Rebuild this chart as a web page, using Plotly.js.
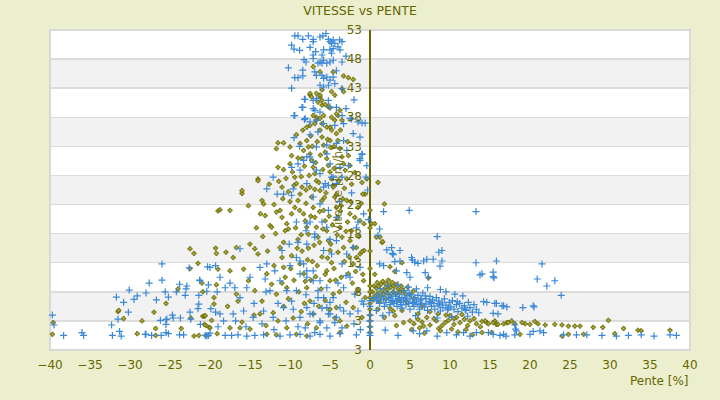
<!DOCTYPE html>
<html><head><meta charset="utf-8">
<script src="https://cdn.plot.ly/plotly-3.0.1.min.js"></script>
<style>html,body{margin:0;padding:0;background:#ebefcd;}#chart{width:720px;height:400px;}</style>
</head><body><div id="chart"></div>
<script>
// [pente %, vitesse km/h] pairs
const bluePoints = [
[-39.7,4.0],[-39.5,2.3],[-38.3,0.5],[-36,1.0],[-35.8,0.5],[-32.3,2.3],[-32.2,0.5],[-31.7,7.1],[-31.5,3.3],[-31.3,1.2],[-31.1,0.4],[-30.8,6.2],[-30.2,4.5],[-30.1,8.3],[-29.5,6.7],[-29.1,7.3],[-28.0,7.8],[-27.6,9.5],[-28.0,0.7],[-27.3,0.5],[-26.7,6.6],[-26.2,3.1],[-26.0,10.0],[-26.0,12.8],[-26.1,0.5],[-25.6,8.0],[-25.5,3.2],[-25.4,3.3],[-25.5,2.4],[-25.2,7.1],[-25.5,1.0],[-25.2,0.8],[-24.7,4.0],[-24.6,3.5],[-24.2,8.0],[-23.8,9.3],[-23.7,3.5],[-23.8,0.6],[-23.3,0.6],[-23.1,7.4],[-23.0,8.5],[-22.9,9.0],[-22.6,12.1],[-22.5,4.5],[-22.4,3.3],[-21.5,5.1],[-21.4,5.9],[-21.3,10.0],[-21.4,7.4],[-21.2,2.4],[-20.3,12.3],[-20.2,9.2],[-20.4,8.1],[-19.9,5.1],[-20.0,0.9],[-20.6,0.5],[-20.2,0.5],[-19.3,12.5],[-19.1,8.0],[-19.3,4.5],
[-45.5,0.5],[-45,2.4],[-44.1,1.7],[-44,0.7],[-41.5,0.5],[-28.1,0.7],
[-9.4,52.0],[-9.0,52.0],[-8.4,51.4],[-7.7,52.0],[-7.1,51.4],[-7.1,51.0],[-9.8,50.4],[-9.5,49.7],[-6.25,51.8],[-5.9,52.0],[-5.5,52.4],[-6.1,53.1],[-5.2,51.4],[-5.0,51.0],[-4.8,50.7],[-4.6,51.3],[-4.4,50.7],[-3.8,51.3],[-3.5,51.0],[-4.0,50.1],[-3.75,49.6],[-5.0,49.6],[-4.8,49.0],[-4.6,49.8],[-5.8,49.6],[-6.0,48.7],[-7.1,48.7],[-7.1,48.1],[-6.25,47.5],[-6.0,47.3],[-5.8,47.8],[-6.5,47.3],[-5.4,47.3],[-5.0,47.5],[-4.6,47.8],[-3.5,47.5],[-8.25,47.9],[-8.0,47.5],[-8.4,46.1],[-9.4,44.8],[-9.0,44.8],[-8.4,45.1],[-6.9,45.8],[-6.7,45.2],[-6.0,45.2],[-5.8,44.7],[-5.4,44.9],[-5.0,44.4],[-4.6,44.9],[-6.25,43.5],[-5.8,43.2],[-5.2,43.5],[-4.4,43.8],[-3.5,42.9],[-8.1,41.1],[-7.1,40.9],[-6.7,41.2],[-8.4,39.7],[-7.1,39.5],[-5.2,40.9],[-5.0,39.8],[-4.2,39.7],[-3.5,38.3],[-9.4,38.3],[-8.1,37.8],[-6.7,37.5],[-2.5,37.8],[-2.3,37.7],[-1.5,37.2],[-1.0,37.0],[-0.6,37.0],[-5.8,36.9],[-4.4,36.6],[-3.3,36.9],
[-9.5,38.3],[-8.2,41.1],[-8.5,39.7],[-8.2,37.6],[-7.5,37.2],[-6.9,39.2],[-6.25,38.9],[-9.8,29.4],[-12.1,27.7],[-12.9,25.7],[-9,30.0],[-8.75,28.9],[-7.9,31.2],[-7.1,30.3],[-6.7,28.9],[-5.4,31.7],[-5,30.0],[-4.6,27.7],[-4.2,26.6],[-3.3,34.0],[-2.9,32.3],[-2.1,35.2],[-1.25,34.6],[-1.0,31.7],[-0.4,29.7],[-1.25,30.9],[-0.5,27.7],[-3.75,29.4],[-3.5,27.7],
[-11.6,24.8],[-10.8,24.8],[-9.8,24.6],[-9.6,25.7],[-9.2,20.0],[-7.9,19.7],[-7.5,20.0],[-5.8,26.0],[-5.2,26.3],[-6.9,17.9],[-5.4,19.1],[-9.2,13.9],[-8.75,13.3],[-8.3,12.8],[-11,15.1],[-10.1,16.2],[-12.9,12.8],[-16.25,15.4],[-20,12.2],[-21.25,9.9],[-18.75,10.5],[-18.1,8.7],[-16.9,8.7],[-16.25,7.0],[-15.4,8.7],[-15,10.5],[-13.75,12.2],[-13.1,10.2],[-12.5,8.2],[-11.9,11.6],[-11.25,9.9],[-10.4,8.2],[-9.8,6.4],[-9.2,8.2],[-8.75,11.1],[-7.9,11.6],[-7.1,9.9],[-6.5,8.2],[-5.8,7.0],[-5.4,5.3],[-18.75,4.2],[-18.3,3.0],[-17.1,4.2],[-15.8,4.7],[-14.6,3.6],[-13.3,4.7],[-12.1,3.6],[-10.8,5.3],[-9.6,5.0],[-8.75,3.6],[-7.5,4.2],[-6.25,3.0],[-5.2,4.2],[-4.2,3.6],[-3.3,4.7],[-20.4,0.4],[-18.1,0.5],[-17.3,0.5],[-16.5,0.6],[-15.4,0.4],[-14.4,0.5],[-13.3,0.6],[-11.25,0.4],[-10,0.6],[-8.75,0.7],[-7.5,0.4],[-6.25,0.7],[-5,0.4],[-3.75,0.8],[-1.7,0.6],
[-1.0,31.6],[-1.25,30.6],[-2.7,29.7],[-0.3,25.5],[-0.8,21.4],[-1.5,20.0],[-1.7,19.0],[-2.1,15.6],[-2.9,14.5],[-3.5,12.8],[-1.25,12.2],[-2.5,10.5],[-3.3,8.7],[-1.9,7.6],[-1,6.4],[-4.6,7.0],[-3.75,5.3],[-5,4.2],[-6.25,2.7],[-7.1,4.2],[-7.9,5.3],[-8.1,1.8],[-6.9,1.0],[-5.4,1.8],[-4.4,2.7],[-2.5,4.2],[-1.5,4.7],[-0.8,5.9],[-7.9,10.5],[-7.1,11.6],[-6.25,9.9],[-5.4,8.7],[-6.5,7.0],[-5.8,15.1],[-4.8,14.5],[-4.2,16.8],[-6.9,17.4],[-7.9,16.2],[-6.25,28.3],[-5.6,26.6],[-4.8,27.7],[-7.9,26.6],[-7.1,24.3],[-6.25,23.1],[-5.2,22.0],[-4.2,20.8],[-8.3,30.6],[-7.5,31.2],[-6.7,32.9],[-5.4,33.2],[-4.2,33.5],
[-11.5,6.0],[-10.5,3.0],[-9.0,2.0],[-8.0,7.5],[-7.0,6.0],[-6.0,5.2],[-5.0,6.2],[-4.0,9.5],[-3.0,10.8],[-2.0,2.5],[-1.2,1.5],[-3.5,1.8],[-12.0,1.5],[-13.5,2.5],[-14.5,6.0],[-15.5,2.0],[-16.8,3.0],[-17.5,9.5],[-19.0,2.0],[-13.0,8.0],[-10.0,12.5],[-9.0,16.5],[-8.0,18.5],[-6.0,20.0],[-5.0,17.0],[-3.8,23.5],[-2.3,25.0],[-7.5,35.0],[-6.5,35.5],[-8.8,33.0],[-9.5,34.5],[-3.0,39.5],[-2.0,41.0],[-9.8,43.0],[-10.2,46.5],[-8.8,49.5],[-7.5,50.0],[-6.8,49.3],[-4.2,46.0],[-3.0,48.5],
[1.7,21.8],[4.9,22.0],[-0.2,20.4],[1.2,18.8],[1.0,17.7],[8.4,17.5],[2.1,15.2],[2.7,15.6],[2.8,14.6],[2.9,14.4],[3.75,15.1],[5.2,13.9],[5.3,13.5],[5.6,13.1],[6.0,12.9],[6.7,13.3],[7.1,13.6],[7.9,13.6],[9.0,13.3],[8.6,14.8],[9.0,15.1],[8.75,12.4],[13.25,13.0],[15.8,13.3],[21.5,12.8],[1.2,12.8],[1.7,12.5],[3.1,13.2],[3.3,11.6],[3.75,13.3],[4.6,11.3],[5,10.5],[6.9,11.3],[7.3,10.5],[13.75,10.9],[15.4,11.4],[15.5,10.4],[20.9,10.2],[13.25,21.8],[14,11.1],[15.4,10.6],[22.1,9.0],[19.1,5.3],[20.4,5.6],[15.8,6.0],[16.7,5.6],[23.1,9.9],[23.9,7.4],[14.2,6.3],[14.6,6.2],[15.6,6.0],[16.5,5.6],[17.1,5.4],[15.4,4.3],[16.0,4.2],[20.5,5.4],[18.1,2.3],[18.2,1.6],[21.25,1.3],
[1.9,1.4],[5.4,1.3],[7.1,1.3],[9.6,1.0],[11.7,1.0],[13.3,1.0],[14.8,1.0],[16.7,0.7],[18.3,1.3],[20.4,1.2],[21.7,1.0],[15.4,0.7],[16.25,0.5],[17,0.4],[18.1,0.6],[20,0.7],[24.2,0.6],[25.8,0.6],[27.1,0.6],[29,0.5],[30.8,0.4],[32.3,0.5],[33.9,0.6],[35.5,0.4],[37.5,0.6],[38.3,0.5],[40.4,0.6],[41.6,0.7],[43.2,0.7],[3.5,0.5],[6.2,0.8],[8.4,0.4],[10.8,0.6],[12.5,0.4],
[0.5,7.0],[0.8,6.5],[1.0,7.5],[1.2,6.0],[1.5,7.2],[1.7,6.6],[2.0,7.8],[2.0,6.2],[2.3,7.0],[2.5,5.8],[2.6,7.5],[2.8,6.5],[3.0,8.0],[3.0,6.0],[3.2,7.2],[3.4,5.5],[3.5,6.8],[3.7,7.6],[3.8,6.2],[4.0,5.2],[4.0,7.0],[4.2,6.5],[4.3,8.2],[4.5,5.8],[4.6,7.3],[4.8,6.0],[5.0,6.8],[5.0,5.0],[5.2,7.5],[5.3,6.2],[5.5,5.5],[5.6,7.0],[5.8,6.4],[6.0,5.8],[6.0,7.4],[6.2,5.0],[6.3,6.6],[6.5,6.0],[6.6,7.8],[6.8,5.4],[7.0,6.8],[7.0,5.9],[7.2,4.8],[7.4,6.3],[7.5,7.2],[7.7,5.5],[7.8,6.6],[8.0,6.0],[8.1,5.0],[8.3,7.0],[8.5,5.6],[8.6,6.4],[8.8,4.7],[9.0,6.1],[9.1,5.3],[9.3,6.8],[9.5,5.7],[9.7,4.9],[9.9,6.2],[10.1,5.4],[10.3,6.5],[10.5,5.0],[10.8,5.8],[11.0,4.6],[11.2,6.0],[11.5,5.2],[11.8,5.6],[12.0,4.8],[12.3,6.2],[12.5,5.3],[12.8,4.5],[13.0,5.8],[13.3,5.0],[13.6,4.4],[1.3,8.5],[2.2,9.0],[3.5,9.2],[4.8,8.8],[5.8,8.5],[7.2,8.7],[8.8,8.4],[9.5,8.0],[10.6,7.6],[11.6,7.3],[0.8,4.8],[1.6,3.9],[2.4,4.4],[5.7,3.9],[8.4,3.5],[10.2,3.7],[12.2,3.8],
[1.0,6.8],[1.8,5.5],[2.6,6.8],[3.3,6.4],[4.4,6.9],[5.4,6.0],[6.4,6.8],[7.6,6.1],[8.7,5.9],[9.8,5.2],[10.9,6.3],[11.9,5.0],[6.9,7.3],[4.9,7.8],[3.9,5.8],
[0,0.5],[0,1.0],[0,2.0],[0,3.0],[0,4.0],[0,5.5],[0,6.5]
];
const olivePoints = [
[-39.7,0.7],[-39.6,2.7],[-31.5,4.6],[-31.4,4.8],[-30.8,3.4],[-29.1,0.8],[-26.8,1.7],[-26.8,0.5],[-23.6,1.7],[-22.4,3.5],[-22.0,14.6],[-21.5,12.9],[-22,0.4],[-21.4,0.5],[-20.9,3.8],[-20.7,3.8],[-20.7,2.4],[-20.5,2.2],[-20.1,1.9],[-20.9,8.0],[-19.5,5.9],[-19.8,3.1],[-19.3,15.5],[-19.2,14.6],[-19.0,21.9],[-19.2,9.2],[-19.1,0.8],[-20.5,0.5],
[-7.1,46.7],[-3.3,45.1],[-2.7,44.8],[-2.1,44.5],[-6.25,45.8],[-4.6,45.8],[-3.5,42.9],[-3.3,42.4],[-7.5,41.8],[-7.3,41.5],[-6.25,41.5],[-6.0,40.9],[-5.2,39.8],[-5,39.6],[-7.1,38.3],[-6.7,38.0],[-6.25,37.8],[-5.8,38.3],[-4.8,38.0],[-4.4,37.5],[-4,38.3],[-7.9,36.3],[-7.5,36.6],[-6.9,36.9],[-5,36.3],
[-11.5,33.6],[-10.8,33.6],[-11.7,32.6],[-14.0,27.4],[-11.5,29.4],[-10.8,29.0],[-10,32.9],[-9.8,31.4],[-10,30.0],[-9.4,27.7],[-9.2,26.6],[-8.75,33.5],[-8.3,32.3],[-8.5,30.9],[-7.9,34.0],[-7.7,32.9],[-7.5,31.7],[-7.3,30.6],[-7.1,29.4],[-6.9,28.3],[-6.7,27.1],[-6.25,35.8],[-6.0,34.6],[-5.8,33.2],[-5.6,32.0],[-5.4,30.9],[-5.2,29.7],[-5,28.6],[-4.8,27.4],[-4.6,26.3],[-4.2,35.2],[-4.0,34.0],[-3.75,32.6],[-3.5,31.2],[-3.3,30.0],[-3.1,28.9],[-2.9,27.4],[-2.7,31.4],[-2.5,29.7],[-7.5,42.1],[-6.7,42.1],[-6.25,41.8],[-6.0,42.7],[-6.5,40.6],[-6,40.1],[-5.6,40.2],[-6.7,37.5],[-6.0,36.9],[-5.4,36.3],[-4.8,35.8],[-4.2,38.6],[-3.75,39.2],[-3.5,37.5],[-4.8,42.4],[-4.4,41.8],
[-16.0,24.9],[-18.75,22.1],[-15.2,22.8],[-13.5,23.7],[-13.3,23.1],[-13.7,21.4],[-13.1,21.1],[-12.5,19.4],[-12.3,19.1],[-11.7,21.7],[-11.25,22.0],[-11.0,20.8],[-10.6,18.5],[-10.2,18.8],[-10.4,19.7],[-9.8,21.4],[-9.4,22.5],[-9,23.7],[-8.75,24.8],[-8.5,26.0],[-8.3,21.4],[-8.1,20.2],[-7.9,19.1],[-7.7,17.9],[-7.5,26.0],[-7.3,24.3],[-7.1,22.5],[-6.9,20.8],[-6.7,19.1],[-6.5,17.4],[-6.25,25.4],[-6,23.7],[-5.8,22.0],[-5.6,20.2],[-5.4,18.5],[-5.2,16.8],[-5,15.1],[-4.6,26.0],[-4.4,24.3],[-4.2,22.5],[-4,20.8],[-3.75,19.1],[-3.5,17.4],[-3.3,15.6],[-2.9,23.7],[-2.5,21.4],[-2.3,18.5],[-2.1,15.6],[-1.7,13.9],[-1.25,20.2],[-11.25,15.6],[-11.0,13.9],[-10.8,12.2],[-10.6,10.5],[-10.4,8.7],[-15,16.2],[-14.4,15.4],[-14,14.5],[-18,14.8],[-17.1,13.9],[-16.7,15.6],[-19,11.9],[-17.5,11.6],[-15.8,11.9],[-15.2,9.9],[-14.4,8.2],[-13.5,6.4],[-12.9,11.1],[-12.3,9.3],[-11.7,7.6],[-8.75,12.8],[-8.3,11.1],[-7.9,8.7],[-7.5,6.4],[-7.1,4.2],[-6.7,1.8],[-5.4,11.6],[-5,9.9],[-4.6,7.6],[-4.2,5.3],[-3.75,3.0],[-20.6,3.9],[-20,1.8],[-17.5,1.8],[-16.25,1.8],[-15,1.6],[-12.9,0.7],[-11.7,0.6],[-10.4,1.8],[-9.2,0.7],[-7.9,0.4],[-16.7,7.6],[-16.5,6.4],[-13.75,4.2],[-12.1,4.4],
[-16,25.4],[-17.5,22],[-14,27.1],[-22.5,15.4],
[-11.0,26.0],[-10.5,27.5],[-10.2,25.2],[-9.7,28.6],[-9.5,26.3],[-9.0,31.0],[-8.6,27.8],[-8.2,29.6],[-8.0,25.5],[-7.6,28.0],[-7.2,33.0],[-6.8,30.2],[-6.4,26.8],[-6.2,31.5],[-5.9,29.0],[-5.5,25.0],[-5.3,34.2],[-4.9,32.8],[-4.5,29.2],[-4.2,24.7],[-3.9,27.0],[-3.6,22.8],[-3.2,25.8],[-2.8,20.0],[-2.4,23.5],[-12.0,23.0],[-11.8,18.0],[-10.8,16.5],[-9.8,14.2],[-9.0,17.0],[-8.5,15.0],[-7.8,13.5],[-7.0,16.0],[-6.6,12.5],[-6.0,14.0],[-5.6,11.0],[-4.8,13.0],[-4.3,10.0],[-3.8,8.0],[-3.0,6.2],[-9.5,10.0],[-8.9,8.0],[-8.2,6.0],[-10.8,5.5],[-11.5,3.0],[-13.0,2.2],[-14.5,4.0],[-16.0,2.8],[-17.8,5.5],[-19.5,7.0],[-21.0,9.5],[-22.5,12.0],[-24.0,8.5],[-25.5,6.0],[-27.0,4.5],[-28.5,3.0],
[-9.3,19.0],[-8.8,22.0],[-8.0,23.2],[-7.4,21.0],[-6.9,25.6],[-6.3,21.8],[-5.7,24.2],[-5.1,21.0],[-4.7,19.5],[-4.1,17.8],[-3.7,21.9],[-3.4,24.0],[-3.0,18.4],[-2.6,14.0],[-2.2,9.5],[-1.8,11.5],[-1.4,17.5],[-1.1,23.2],[-7.7,15.5],[-7.2,13.2],[-6.8,10.6],[-6.3,16.5],[-5.9,18.8],[-5.3,13.8],[-4.9,16.2],[-4.5,12.0],[-4.0,14.8],[-3.6,10.5],[-3.2,13.2],[-9.9,12.0],[-9.1,15.5],[-8.6,17.8],[-8.1,9.8],[-7.4,10.0],[-6.1,8.5],[-5.6,6.5],[-5.0,5.0],[-4.4,3.5],[-6.4,5.5],[-7.8,2.5],[-8.6,4.6],[-9.6,3.5],[-10.2,6.8],[-11.0,9.5],[-12.0,12.5],[-12.8,15.0],[-13.4,17.5],[-14.2,19.0],[-10.0,23.5],[-10.9,24.0],[-11.4,27.0],[-12.6,26.5],[-9.2,35.0],[-8.4,35.8],[-7.4,34.8],[-6.6,33.8],[-5.0,34.0],[-4.5,33.0],[-3.7,35.8],[-2.8,33.8],[-2.3,26.5],[-1.9,28.5],
[-1.0,26.8],[-0.6,24.8],[-0.4,27.4],[0.2,19.7],[-1.5,22.5],[-1.9,20.8],[-2.5,16.8],[-1.7,15.6],[-1.25,14.5],[-2.1,12.8],[-2.7,11.1],[-0.8,9.9],[-1.5,8.2],[-0.6,7.0],[-2.1,5.3],[-1.0,3.6],[-2.9,2.1],[-3.75,1.0],
[1.0,26.8],[-0.9,24.8],[1.8,23.1],[-0.75,19.7],[0.6,19.7],[1.5,16.5],[0.8,17.4],[-0.75,15.1],[-1.0,14.9],[4.0,13.0],[2.5,12.3],[3.1,11.5],[-0.9,11.0],[2.3,10.0],[7.3,10.4],[0.6,11.0],[1.25,17.4],[1.6,16.6],
[2.9,4.7],[3.1,3.9],[4.2,2.7],[5,3.0],[6.0,3.3],[6.7,2.1],[7.1,3.6],[8.3,3.0],[9.4,2.7],[10,3.9],[10.8,3.6],[11.25,2.7],[12.5,3.0],[13.3,2.5],[14.6,2.7],[15.6,3.0],[15.8,2.4],[17.1,2.7],
[5.5,2.5],[6.5,2.8],[7.5,2.3],[8.0,3.4],[9.0,2.2],[9.8,3.1],[10.5,2.4],[11.8,3.3],[12.2,2.2],[13.0,3.4],[13.8,2.0],[6.2,1.8],[8.6,1.7],[10.2,1.6],[12.0,1.5],
[14,2.9],[14.4,3.0],[14.8,2.5],[15.4,2.7],[16,2.4],[16.7,2.5],[17.3,2.7],[17.7,3.0],[18.1,2.5],[19,2.7],[19.4,2.5],[20,2.4],[20.6,2.9],[21,2.5],[21.9,2.3],[23.1,2.4],[24,2.3],[24.8,2.1],[25.6,2.1],[26.25,2.1],[27.9,1.9],[29.1,1.9],[29.8,3.1],[31.7,1.7],[33.5,1.4],[33.9,1.3],[37.5,1.4],[41.8,1.7],[14,1.0],[15.2,1.0],[18.75,0.7],[24,0.4],[24.8,0.7],[26.7,0.7],[30.6,0.8],[42.9,0.4],
[0.3,8.0],[0.5,9.0],[0.6,7.3],[0.8,8.6],[0.9,9.6],[1.0,7.8],[1.1,8.9],[1.3,7.2],[1.4,9.3],[1.5,8.2],[1.6,9.8],[1.7,7.6],[1.9,8.7],[2.0,9.4],[2.1,7.9],[2.2,8.4],[2.4,9.1],[2.5,7.4],[2.6,8.8],[2.8,9.6],[2.9,8.0],[3.0,8.9],[3.2,7.6],[3.3,9.3],[3.5,8.5],[3.7,7.9],[3.9,9.0],[4.1,8.3],[4.4,7.7],[4.7,8.8],[5.0,7.5],[5.4,8.1],[0.4,6.6],[1.2,6.3],[2.0,6.8],[2.8,6.2],[3.6,6.7],[4.5,6.4],[5.5,6.9],[6.5,5.5],[7.5,4.6],[8.5,4.2],[9.5,4.0],[10.5,3.4],[11.5,4.1],[6.0,4.2],[4.0,4.8],[2.5,5.2],[1.0,5.0],[1.8,3.6],[3.3,2.2],[5.2,1.5],[6.8,0.9],[8.8,1.3],[11.0,1.1],[12.8,0.6],
[0,1],[0,2],[0,3],[0,4],[0,5],[0,6],[0,7],[0,8],[0,9],[0,12],[0,15],[0,19],[0,22]
];
const yTickVals = [-2,3,8,13,18,23,28,33,38,43,48,53];
const yTickText = ['3','3','8','13','18','23','28','33','38','43','48','53'];
const xTickVals = [-40,-35,-30,-25,-20,-15,-10,-5,0,5,10,15,20,25,30,35,40];
const grayBands = [[3,8],[13,18],[23,28],[33,38],[43,48]];

const olive = '#666600';
const font = 'DejaVu Sans, Verdana, sans-serif';

const traces = [
  {type:'scatter', mode:'markers', cliponaxis:false, hoverinfo:'skip',
   x: olivePoints.map(p=>p[0]), y: olivePoints.map(p=>p[1]),
   marker:{symbol:'cross', size:3.5, color:'#b8b840', line:{color:olive, width:0.8}}},
  {type:'scatter', mode:'markers', cliponaxis:false, hoverinfo:'skip',
   x: bluePoints.map(p=>p[0]), y: bluePoints.map(p=>p[1]),
   marker:{symbol:'cross-thin-open', size:5, color:'#3a88d8', line:{color:'#3a88d8', width:1.2}}}
];

const shapes = grayBands.map(b=>({type:'rect', xref:'paper', yref:'y', x0:0, x1:1, y0:b[0], y1:b[1],
  fillcolor:'#f2f2f2', line:{width:0}, layer:'below'}));
shapes.push({type:'rect', xref:'paper', yref:'paper', x0:0, x1:1, y0:0, y1:1,
  line:{color:'#d9d9d9', width:2}, fillcolor:'rgba(0,0,0,0)', layer:'below'});

const layout = {
  width:720, height:400,
  paper_bgcolor:'#ebefcd', plot_bgcolor:'#ffffff',
  margin:{l:50, r:30, t:30, b:50},
  showlegend:false,
  font:{family:font, size:12, color:olive},
  title:{text:'VITESSE vs PENTE', x:0.5, xanchor:'center', y:0.985, yanchor:'top',
         font:{family:font, size:12.5, color:olive}},
  xaxis:{range:[-40,40], tickvals:xTickVals, showgrid:false,
         zeroline:true, zerolinecolor:olive, zerolinewidth:1.5,
         showline:false, ticks:'', ticklabelstandoff:6,
         tickfont:{family:font, size:12, color:olive}},
  yaxis:{range:[-2,53], tickvals:yTickVals, ticktext:yTickText,
         showgrid:true, gridcolor:'#dcdcdc', gridwidth:1.5, zeroline:false,
         anchor:'free', position:0.5, side:'left', showline:false, ticks:'',
         ticklabelstandoff:8,
         tickfont:{family:font, size:12, color:olive}},
  shapes: shapes,
  annotations:[
    {text:'Pente [%]', xref:'paper', yref:'paper', x:1, y:0, xanchor:'right', yanchor:'top',
     yshift:-22, showarrow:false, font:{family:font, size:12, color:olive}},
    {text:'Vitesse [km/h]', xref:'paper', yref:'paper', x:0.5, y:0.5, xanchor:'center', yanchor:'middle',
     xshift:-32, textangle:-90, showarrow:false, font:{family:font, size:12, color:'rgba(102,102,0,0.85)'}}
  ]
};

Plotly.newPlot('chart', traces, layout, {staticPlot:true, displayModeBar:false});
</script>
</body></html>
